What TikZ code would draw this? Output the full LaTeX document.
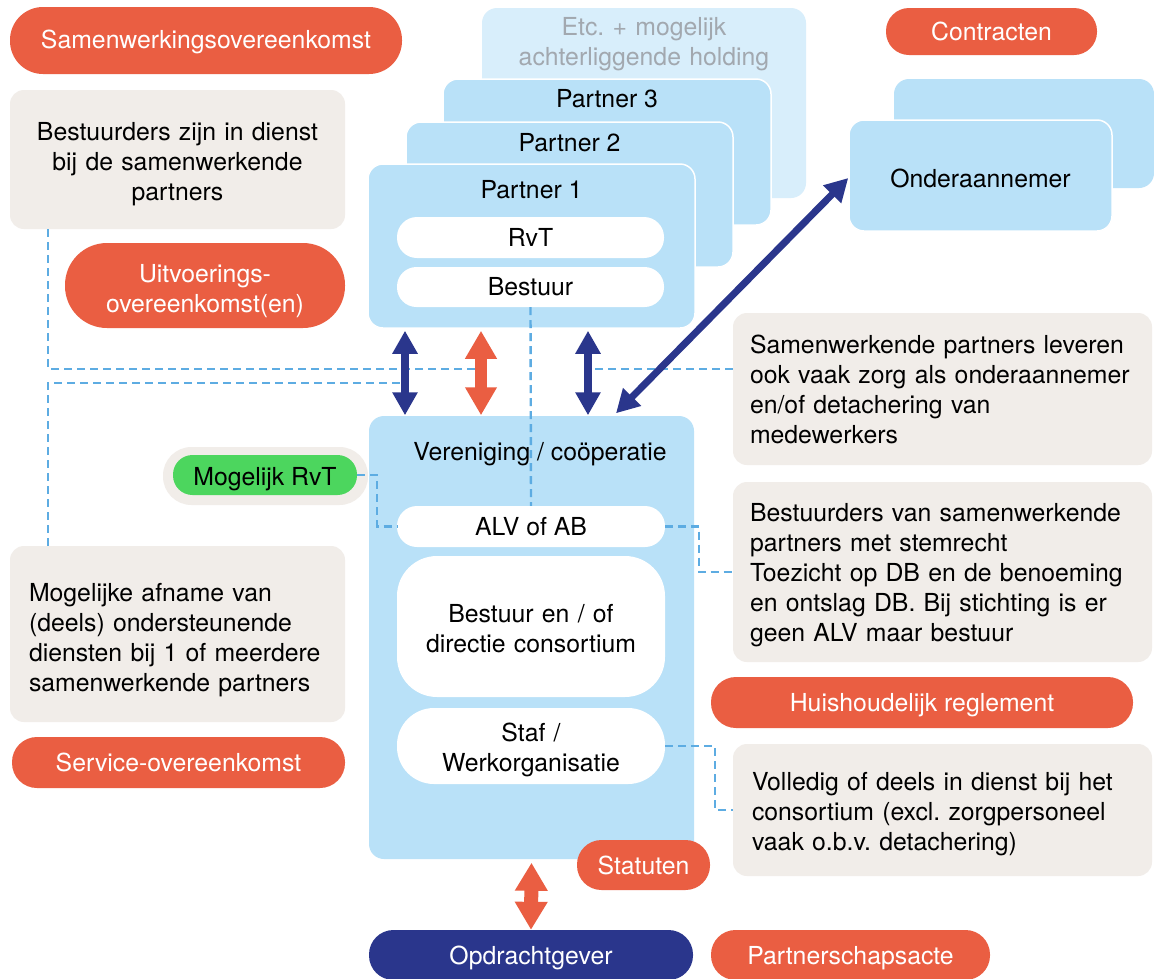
\documentclass[tikz,border=0pt]{standalone}
\usepackage{fontspec}
\setmainfont{TeX Gyre Heros}
\usetikzlibrary{arrows.meta}
\definecolor{orng}{RGB}{234,94,66}
\definecolor{lblue}{RGB}{185,225,248}
\definecolor{llblue}{RGB}{216,238,251}
\definecolor{gbox}{RGB}{241,237,233}
\definecolor{navy}{RGB}{42,54,140}
\definecolor{grn}{RGB}{76,214,94}
\definecolor{dblue}{RGB}{93,172,226}
\definecolor{gtext}{RGB}{162,168,175}
\begin{document}
\frenchspacing
\begin{tikzpicture}[x=1pt,y=-1pt,
  every node/.style={font=\fontsize{24.8}{30}\selectfont\frenchspacing, inner sep=0pt},
  sz/.style 2 args={minimum width=#1pt, minimum height=#2pt},
  dn/.style={execute at begin node={\rule{0pt}{#1pt}}},
  opill/.style={fill=orng, text=white},
  bbox/.style={fill=lblue, rounded corners=15pt, line width=1.5pt},
  wpill/.style={fill=white},
  gb/.style={fill=gbox, rounded corners=14pt},
  dline/.style={draw=dblue, line width=2.4pt, dash pattern=on 8pt off 5pt},
  navyarr/.style={draw=navy, line width=8pt, {Triangle[width=24pt,length=23pt]}-{Triangle[width=24pt,length=23pt]}},
  orarr/.style={draw=orng, line width=12pt, {Triangle[width=30pt,length=28pt]}-{Triangle[width=30pt,length=28pt]}},
  orarrb/.style={draw=orng, line width=14pt, {Triangle[width=31pt,length=28pt]}-{Triangle[width=31pt,length=28pt]}}
]
\useasboundingbox (0,0) rectangle (1154,978);
\fill[white] (0,0) rectangle (1154,978);

% partner stack
\node[bbox, fill=llblue, sz={324}{190}] (etc) at (644,103) {};
\node[text=gtext, align=center, text width=324pt, dn=22] (etct) at (644,42) {Etc. + mogelijk\\achterliggende holding};
\node[bbox, draw=white, sz={328}{146}] (p3) at (607,152) {};
\node (p3t) at (607,99) {Partner 3};
\node[bbox, draw=white, sz={327}{145}] (p2) at (569.5,194.5) {};
\node (p2t) at (569.5,143) {Partner 2};
\node[bbox, draw=white, sz={327}{164}] (p1) at (531.5,246) {};
\node (p1t) at (531.5,190) {Partner 1};
\node[wpill, sz={267}{41}, rounded corners=20pt] (rvt) at (530.5,237.5) {RvT};
\node[wpill, sz={267}{40}, rounded corners=19.5pt] (best) at (530.5,287) {Bestuur};

% onderaannemer
\node[bbox, sz={260}{109}] (ond2) at (1024,133.5) {};
\node[bbox, draw=white, sz={263}{111}, dn=24] (ond) at (980.5,175.5) {Onderaannemer};

% vereniging
\node[bbox, sz={325}{443}] (ver) at (531.5,637.5) {};
\node[dn=24] (vert) at (540,451) {Vereniging / coöperatie};
\node[wpill, sz={268}{41}, rounded corners=20pt] (alv) at (531,526.5) {ALV of AB};
\node[wpill, sz={268}{141}, rounded corners=40pt, align=center, text width=268pt, dn=22] (bdc) at (531,626.5) {Bestuur en / of\\directie consortium};
\node[wpill, sz={268}{76}, rounded corners=37pt, align=center, text width=268pt, dn=26] (staf) at (531,746) {Staf /\\Werkorganisatie};

% mogelijk RvT
\node[fill=gbox, sz={205}{58}, rounded corners=28.5pt] (halo) at (265.5,476) {};
\node[fill=grn, sz={184}{40}, rounded corners=19.5pt, dn=26] (mrvt) at (265,475) {Mogelijk RvT};

% grey boxes
\node[gb, sz={335}{139}, align=center, text width=335pt, dn=28] (bzd) at (177.5,159.5) {Bestuurders zijn in dienst\\bij de samenwerkende\\partners};
\node[gb, sz={335}{176}, align=left, text width=297pt, dn=30] (moga) at (177.5,634) {Mogelijke afname van\\(deels) ondersteunende\\diensten bij 1 of meerdere\\samenwerkende partners};
\node[gb, sz={419}{152}, align=left, text width=385pt] (slev) at (942.5,389) {Samenwerkende partners leveren\\ook vaak zorg als onderaannemer\\en/of detachering van\\medewerkers};
\node[gb, sz={419}{180}, align=left, text width=385pt, dn=24] (bvs) at (942.5,572) {Bestuurders van samenwerkende\\partners met stemrecht\\Toezicht op DB en de benoeming\\en ontslag DB. Bij stichting is er\\geen ALV maar bestuur};
\node[gb, sz={419}{132}, align=left, text width=381pt, dn=26] (voll) at (942.5,810) {Volledig of deels in dienst bij het\\consortium (excl. zorgpersoneel\\vaak o.b.v. detachering)};

% orange / navy pills
\node[opill, sz={392}{67}, rounded corners=33pt, dn=22] (samen) at (206,40.5) {Samenwerkingsovereenkomst};
\node[opill, sz={211}{47}, rounded corners=23pt] (contr) at (991.5,31.5) {Contracten};
\node[opill, sz={280}{85}, rounded corners=42pt, align=center, text width=280pt, dn=30] (uitv) at (205,285.5) {Uitvoerings-\\overeenkomst(en)};
\node[opill, sz={333}{51}, rounded corners=25pt] (serv) at (178.5,762.5) {Service-overeenkomst};
\node[opill, sz={422}{51}, rounded corners=25pt, dn=24] (huis) at (922,702.5) {Huishoudelijk reglement};
\node[opill, sz={133}{50}, rounded corners=24.5pt] (stat) at (643.5,865) {Statuten};
\node[opill, sz={279}{50}, rounded corners=24.5pt, dn=24] (pact) at (850.5,955) {Partnerschapsacte};
\node[fill=navy, text=white, sz={324}{50}, rounded corners=24.5pt, dn=24] (opdr) at (531,955) {Opdrachtgever};

% arrow end coordinates
\coordinate (aLt) at ([xshift=-126.5pt,yshift=-2pt]p1.south);
\coordinate (aLb) at ([xshift=-126.5pt]ver.north);
\coordinate (aOt) at ([xshift=-50.5pt,yshift=-2pt]p1.south);
\coordinate (aOb) at ([xshift=-50.5pt]ver.north);
\coordinate (aRt) at ([xshift=56.5pt,yshift=-2pt]p1.south);
\coordinate (aRb) at ([xshift=56.5pt]ver.north);
\coordinate (aDb) at ([xshift=84.5pt,yshift=2pt]ver.north);
\coordinate (aDt) at ([yshift=-2.5pt]ond.west);
\coordinate (j1) at (481,369);
\coordinate (j2) at (405,383);
\coordinate (j3) at (588,369);

% dashed connectors
\draw[dline] ([xshift=38pt]bzd.south west) |- (j1);
\draw[dline] ([xshift=38pt]moga.north west) |- (j2);
\draw[dline] (slev.west |- j3) -- (j3);
\draw[dline] (best.south) -- (alv.north);
\draw[dline] (mrvt.east) -- ++(20,0) |- (alv.west);
\draw[dline] (alv.east) -- ++(34,0) |- (bvs.west);
\draw[dline] (staf.east) -- ++(50,0) |- (voll.west);

% arrows
\draw[navyarr] (aLt) -- (aLb);
\draw[orarr] (aOt) -- (aOb);
\draw[navyarr] (aRt) -- (aRb);
\draw[navyarr, line width=7pt] (aDb) -- (aDt);
\draw[orarrb] ([yshift=-3pt]ver.south) -- (opdr.north);
\end{tikzpicture}
\end{document}
